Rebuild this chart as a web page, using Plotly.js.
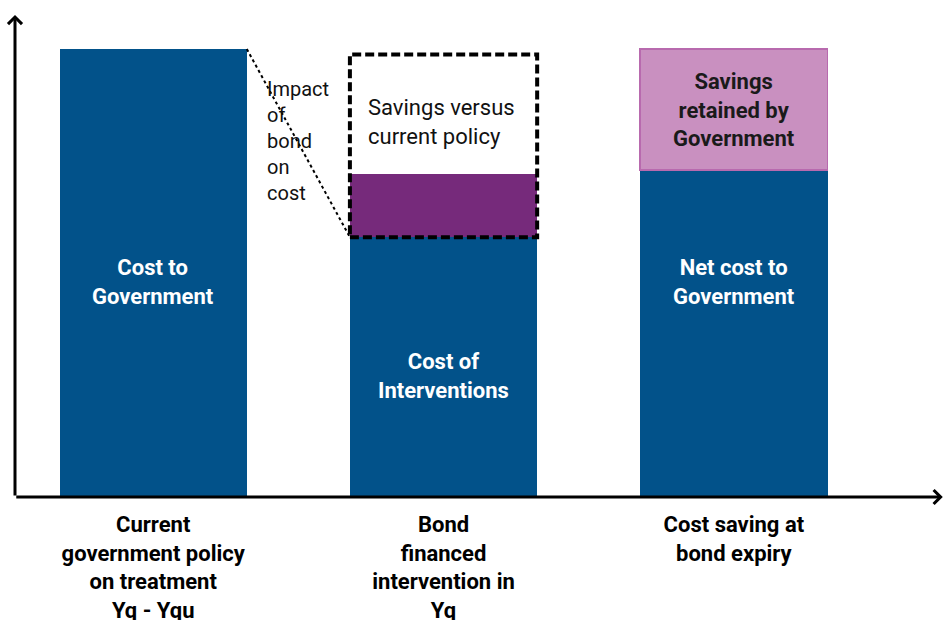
<!DOCTYPE html>
<html>
<head>
<meta charset="utf-8">
<script src="https://cdn.plot.ly/plotly-3.0.1.min.js"></script>
<style>
  html, body { margin: 0; padding: 0; background: #fff; }
  #plot { width: 944px; height: 620px; }
</style>
</head>
<body>
<div id="plot"></div>
<script>
// categories along the x axis
let categories = [
    "Current<br>government policy<br>on treatment<br>Yq - Yqu",
    "Bond<br>financed<br>intervention in<br>Yq",
    "Cost saving at<br>bond expiry"
];

// stacked segments (arbitrary units, first bar = 100)
let baseCost = [100, 58, 73];     // blue part of each bar
let bondImpact = [0, 14, 0];      // purple part on bar 2
let retained = [0, 0, 27];        // pink part on bar 3
let savingsTop = 98.8;            // top of dashed "savings" box on bar 2

let barWidth = 0.645;
let font = "Roboto, 'Noto Sans', sans-serif";

let traces = [
    {
        x: categories, y: baseCost, type: "bar",
        width: barWidth,
        marker: { color: "#02528A" },
        hoverinfo: "none"
    },
    {
        x: categories, y: bondImpact, type: "bar",
        width: barWidth,
        marker: { color: "#762A7B" },
        hoverinfo: "none"
    },
    {
        x: categories, y: retained, type: "bar",
        width: barWidth,
        marker: { color: "#C990C0", line: { color: "#B86AAE", width: [0, 0, 1.5] } },
        hoverinfo: "none"
    }
];

let half = barWidth / 2;

let shapes = [
    // dotted connector from top of bar 1 to top of blue on bar 2
    {
        type: "line", xref: "x", yref: "y",
        x0: 0 + half, y0: baseCost[0],
        x1: 1 - half, y1: baseCost[1],
        line: { color: "#000", width: 2, dash: "dot" }
    },
    // dashed box around savings vs current policy
    {
        type: "rect", xref: "x", yref: "y",
        x0: 1 - half, x1: 1 + half,
        y0: baseCost[1], y1: savingsTop,
        line: { color: "#000", width: 4, dash: "9px,4px" }
    }
];

function label(x, y, text, color, bold, size, align) {
    return {
        x: x, y: y, xref: "x", yref: "y",
        text: bold ? "<b>" + text + "</b>" : text,
        showarrow: false,
        align: align || "center",
        xanchor: align === "left" ? "left" : "center",
        font: { family: font, size: size || 22, color: color }
    };
}

let annotations = [
    // axis arrows
    {
        xref: "paper", yref: "paper", x: 0, y: 1, ax: 0, ay: 482,
        text: "", showarrow: true, arrowhead: 4, arrowsize: 0.9,
        arrowwidth: 3, arrowcolor: "#000"
    },
    {
        xref: "paper", yref: "paper", x: 1.003, y: 0, ax: -928, ay: 0,
        text: "", showarrow: true, arrowhead: 4, arrowsize: 0.9,
        arrowwidth: 3, arrowcolor: "#000"
    },
    label(0, 48, "Cost to<br>Government", "#fff", true),
    label(1, 27, "Cost of<br>Interventions", "#fff", true),
    label(2, 48, "Net cost to<br>Government", "#fff", true),
    label(2, 86.4, "Savings<br>retained by<br>Government", "#1a1a1a", true),
    label(1 - half + 0.055, 83.7, "Savings versus<br>current policy", "#111", false, 22, "left"),
    label(0.386, 79.5, "Impact<br>of<br>bond<br>on<br>cost", "#111", false, 20, "left")
];

let layout = {
    width: 944,
    height: 620,
    margin: { l: 15, r: 4, t: 15, b: 123 },
    paper_bgcolor: "#fff",
    plot_bgcolor: "#fff",
    barmode: "stack",
    showlegend: false,
    xaxis: {
        type: "category",
        range: [-0.476, 2.71],
        showline: false, showgrid: false, zeroline: false,
        ticks: "",
        ticklabelstandoff: 12,
        tickfont: { family: font, size: 22, color: "#000", weight: "bold" },
        fixedrange: true
    },
    yaxis: {
        range: [0, 107.6],
        visible: false,
        fixedrange: true
    },
    shapes: shapes,
    annotations: annotations
};

Plotly.newPlot("plot", traces, layout, { displayModeBar: false, staticPlot: true });
</script>
</body>
</html>
